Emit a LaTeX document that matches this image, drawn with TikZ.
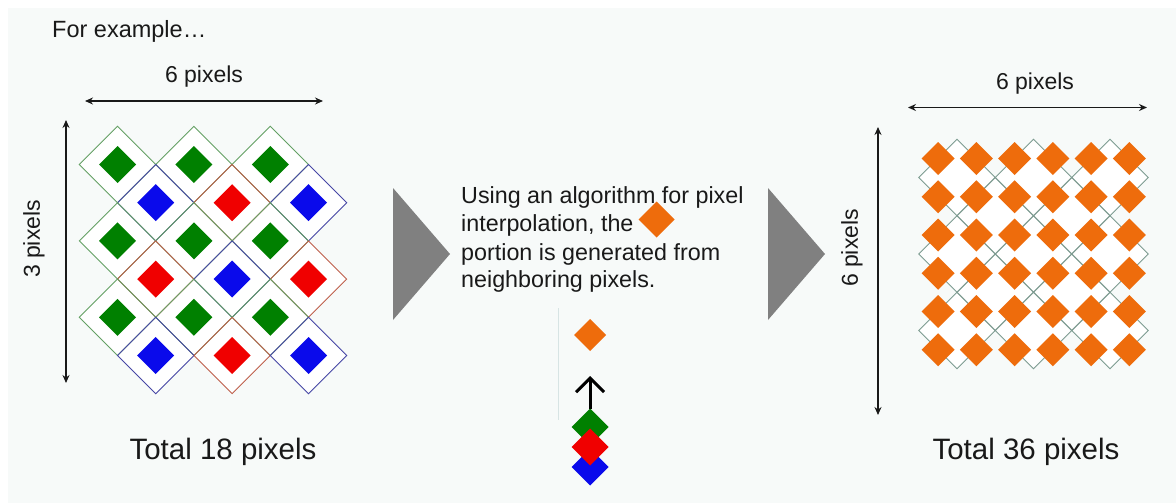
\documentclass[tikz,border=0pt]{standalone}
\usepackage{fontspec}
\setmainfont{Liberation Sans}
\usetikzlibrary{shapes.geometric,arrows.meta}
\definecolor{bg}{RGB}{247,250,249}
\definecolor{txt}{RGB}{25,25,25}
\definecolor{gF}{RGB}{0,128,0}
\definecolor{bF}{RGB}{10,10,235}
\definecolor{rF}{RGB}{240,0,0}
\definecolor{gO}{RGB}{100,160,100}
\definecolor{bO}{RGB}{70,70,165}
\definecolor{rO}{RGB}{190,95,75}
\definecolor{orng}{RGB}{238,108,12}
\definecolor{latt}{RGB}{125,155,145}
\definecolor{tri}{RGB}{128,128,128}
\definecolor{faint}{RGB}{215,228,228}
\begin{document}
\begin{tikzpicture}[x=1pt,y=-1pt,
  dia/.style={diamond, inner sep=0pt, outer sep=0pt, aspect=1,
              minimum width=#1, minimum height=#1},
  cellfill/.style={dia=76.4, fill=white},
  celldraw/.style={dia=76.4, draw=#1, line width=0.9pt},
  lattfill/.style={dia=76.5, fill=white},
  lattdraw/.style={dia=76.5, draw=latt, line width=0.9pt},
  dimarrow/.style={{Stealth[length=8pt,width=7pt]}-{Stealth[length=8pt,width=7pt]}, line width=1.3pt, txt},
  lbl/.style={font=\fontsize{23}{28}\selectfont, text=txt, inner sep=0pt},
  big/.style={font=\fontsize{29.5}{34}\selectfont, text=txt, inner sep=0pt},
  para/.style={font=\fontsize{23.3}{28}\selectfont, text=txt, inner sep=0pt, anchor=base west},
]
\useasboundingbox (0,0) rectangle (1176,503);
\fill[white] (0,0) rectangle (1176,503);
\fill[bg] (8,8) rectangle (1176,503);

% header
\node[lbl, anchor=base west, font=\fontsize{23.5}{28}\selectfont] (title) at (52,38) {For example…};

% ---------- left grid ----------
\foreach \j/\a/\b/\c in {0/g/g/g,1/b/r/b,2/g/g/g,3/r/b/r,4/g/g/g,5/b/r/b}{
  \foreach \i/\col in {0/\a,1/\b,2/\c}{
    \pgfmathsetmacro\xx{117.5+76.4*\i+38.2*mod(\j,2)}
    \pgfmathsetmacro\yy{164.5+38.2*\j}
    \node[cellfill] (cf\j\i) at (\xx,\yy) {};
  }
}
\foreach \j/\a/\b/\c in {0/g/g/g,1/b/r/b,2/g/g/g,3/r/b/r,4/g/g/g,5/b/r/b}{
  \foreach \i/\col in {0/\a,1/\b,2/\c}{
    \pgfmathsetmacro\xx{117.5+76.4*\i+38.2*mod(\j,2)}
    \pgfmathsetmacro\yy{164.5+38.2*\j}
    \node[celldraw=\col O] (cell\j\i) at (\xx,\yy) {};
    \node[dia=37, fill=\col F] (px\j\i) at (\xx,\yy) {};
  }
}

% left dimensions
\coordinate (lhA) at (85,101);
\coordinate (lhB) at (323,101);
\draw[dimarrow] (lhA) -- (lhB);
\node[lbl, anchor=base] (lw) at (204,83) {6 pixels};
\coordinate (lvA) at (66,120);
\coordinate (lvB) at (66,383);
\draw[dimarrow] (lvA) -- (lvB);
\node[lbl, rotate=90] (lh) at (34,239) {3 pixels};
\node[big, anchor=base] (ltot) at (223,459) {Total 18 pixels};

% triangles
\fill[tri] (393,188) -- (450,254) -- (393,320) -- cycle;
\fill[tri] (768,188) -- (825,254) -- (768,320) -- cycle;

% middle text
\node[para] (t1) at (461,203.3) {Using an algorithm for pixel};
\node[para] (t2) at (461,231.7) {interpolation, the};
\node[para] (t3) at (461,260) {portion is generated from};
\node[para] (t4) at (461,287.5) {neighboring pixels.};
\node[dia=36, fill=orng] (tdia) at (656.5,219.5) {};

% middle illustration
\coordinate (vt) at (558,308);
\coordinate (vb) at (558,420);
\draw[faint, line width=0.8pt] (vt) -- (vb);
\node[dia=32, fill=orng] (mo) at (590,335) {};
\node[dia=37, fill=gF] (mg) at (590,427) {};
\node[dia=37, fill=bF] (mb) at (590,467) {};
\node[dia=37, fill=rF] (mr) at (590,447) {};
\coordinate (atip) at (590,376);
\draw[line width=3pt, -{Straight Barb[length=14pt,width=28pt]}] (mg.north) -- (atip);

% ---------- right grid ----------
\foreach \a in {0,1,2}{\foreach \b in {0,1,2}{
  \node[lattfill] (lf\a\b) at (957+76.5*\a,177.5+76.5*\b) {};}}
\foreach \a in {0,1}{\foreach \b in {0,1}{
  \node[lattfill] (lg\a\b) at (995.25+76.5*\a,215.75+76.5*\b) {};}}
\foreach \a in {0,1,2}{\foreach \b in {0,1,2}{
  \node[lattdraw] (la\a\b) at (957+76.5*\a,177.5+76.5*\b) {};}}
\foreach \a in {0,1}{\foreach \b in {0,1}{
  \node[lattdraw] (lb\a\b) at (995.25+76.5*\a,215.75+76.5*\b) {};}}
\foreach \i in {0,...,5}{\foreach \j in {0,...,5}{
  \node[dia=33, fill=orng] (op\i\j) at (938+38.25*\i,158.5+38.25*\j) {};}}

% right dimensions
\coordinate (rhA) at (908,107.5);
\coordinate (rhB) at (1147,107.5);
\draw[dimarrow] (rhA) -- (rhB);
\node[lbl, anchor=base] (rw) at (1035,89) {6 pixels};
\coordinate (rvA) at (878,127);
\coordinate (rvB) at (878,415);
\draw[dimarrow] (rvA) -- (rvB);
\node[lbl, rotate=90] (rh) at (852,248) {6 pixels};
\node[big, anchor=base] (rtot) at (1026,459) {Total 36 pixels};
\end{tikzpicture}
\end{document}
